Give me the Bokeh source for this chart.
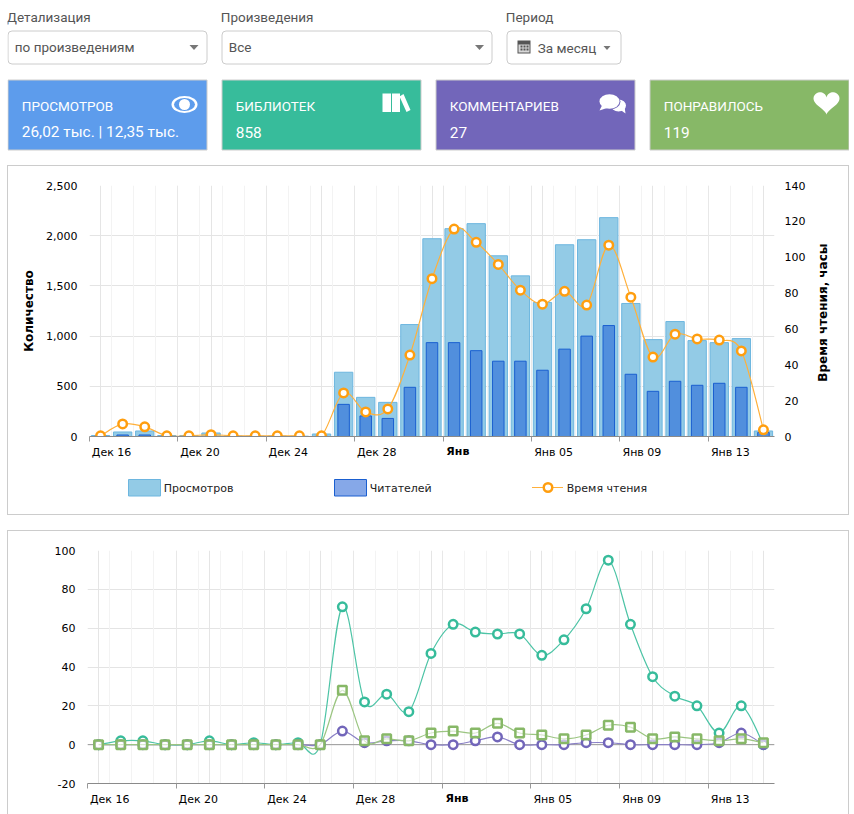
import math
from bokeh.plotting import figure
from bokeh.layouts import column, row
from bokeh.models import Range1d, LinearAxis, FixedTicker, NumeralTickFormatter, Grid, Span
from bokeh.core.properties import value
from bokeh.embed import file_html
from bokeh.resources import INLINE

views = [10, 45, 55, 10, 10, 35, 5, 3, 5, 3, 25, 640, 390, 340, 1115, 1970, 2070, 2120, 1800, 1600,
         1335, 1910, 1960, 2180, 1325, 965, 1145, 955, 935, 975, 55]
readers = [5, 15, 15, 3, 3, 5, 2, 2, 2, 2, 5, 320, 205, 180, 490, 935, 935, 855, 750, 750,
           660, 870, 1000, 1105, 620, 450, 550, 510, 530, 490, 40]
read_hours = [0.4, 7, 5.4, 0.4, 0.4, 1, 0.4, 0.4, 0.4, 0.4, 0.4, 24.3, 13.7, 15.4, 45.4, 88, 115.7, 108.3, 96, 81.6,
              73.8, 81, 73.3, 106.7, 77.7, 44.3, 57.1, 54.4, 53.8, 47.7, 3.7]
libraries = [0, 2, 2, 0, 0, 2, 0, 1, 0, 1, 0, 71, 22, 26, 17, 47, 62, 58, 57, 57,
             46, 54, 70, 95, 62, 35, 25, 20, 6, 20, 0]
comments = [0, 0, 0, 0, 0, 0, 0, 0, 0, 0, 0, 7, 1, 2, 2, 0, 0, 2, 4, 0,
            0, 0, 1, 1, 0, 0, 0, 0, 1, 6, 0]
likes = [0, 0, 0, 0, 0, 0, 0, 0, 0, 0, 0, 28, 2, 3, 2, 6, 7, 6, 11, 6,
         5, 3, 5, 10, 9, 3, 4, 3, 2, 3, 1]
days = list(range(31))
tick_labels = {0.5: "Дек 16", 4.5: "Дек 20", 8.5: "Дек 24", 12.5: "Дек 28",
               20.5: "Янв 05", 24.5: "Янв 09", 28.5: "Янв 13"}
bold_labels = {16.17: "Янв"}

BLUE, TEAL, PURPLE, GREEN = "#5d9cec", "#37bc9b", "#7266ba", "#87b867"
ORANGE = "#ff9e0f"
AXIS_FONT = "DejaVu Sans"
UI_FONT = "Roboto"
B = "1px solid #cccccc"


def smooth(xs, ys, k=6.0):
    n = len(xs)
    out = dict(x0=[], y0=[], x1=[], y1=[], cx0=[], cy0=[], cx1=[], cy1=[])
    for i in range(n - 1):
        a, b = max(i - 1, 0), min(i + 2, n - 1)
        out["x0"].append(xs[i]); out["y0"].append(ys[i])
        out["x1"].append(xs[i + 1]); out["y1"].append(ys[i + 1])
        out["cx0"].append(xs[i] + (xs[i + 1] - xs[a]) / k)
        out["cy0"].append(ys[i] + (ys[i + 1] - ys[a]) / k)
        out["cx1"].append(xs[i + 1] - (xs[b] - xs[i]) / k)
        out["cy1"].append(ys[i + 1] - (ys[b] - ys[i]) / k)
    return out


def style_x(p):
    p.xaxis.visible = False
    tick_axis = LinearAxis(ticker=FixedTicker(ticks=[-0.5 + 4 * i for i in range(8)]),
                           major_tick_in=0, major_tick_out=5, minor_tick_out=0, minor_tick_in=0,
                           axis_line_color="#8a8a8a", major_tick_line_color="#999999",
                           major_label_text_font_size="0px", major_label_standoff=0)
    tick_axis.major_label_overrides = {-0.5 + 4 * i: "" for i in range(8)}
    p.add_layout(tick_axis, "below")
    bold_axis = LinearAxis(ticker=FixedTicker(ticks=list(bold_labels)), major_tick_in=0, major_tick_out=0,
                           minor_tick_out=0, minor_tick_in=0, axis_line_color=None,
                           major_label_overrides=bold_labels, major_label_standoff=3,
                           major_label_text_font=AXIS_FONT, major_label_text_font_size="11px",
                           major_label_text_font_style="bold", major_label_text_color="#000000")
    p.add_layout(bold_axis, "below")
    lab_axis = LinearAxis(ticker=FixedTicker(ticks=list(tick_labels)), major_tick_in=0, major_tick_out=0,
                          minor_tick_out=0, minor_tick_in=0, axis_line_color=None,
                          major_label_overrides=tick_labels, major_label_standoff=-15,
                          major_label_text_font=AXIS_FONT, major_label_text_font_size="11px",
                          major_label_text_color="#000000")
    p.add_layout(lab_axis, "below")
    p.add_layout(Grid(dimension=0, ticker=FixedTicker(ticks=[-0.5 + 4 * i for i in range(8)],
                                                      minor_ticks=[-0.5 + i for i in range(32)]),
                      grid_line_color="#e8e8e8", minor_grid_line_color="#f3f3f3"))
    p.ygrid.grid_line_color = "#e4e4e4"
    p.yaxis.axis_line_color = None
    p.yaxis.major_tick_line_color = None
    p.yaxis.minor_tick_line_color = None
    p.yaxis.major_tick_out = 0
    p.yaxis.major_tick_in = 0
    p.yaxis.minor_tick_out = 0
    p.yaxis.minor_tick_in = 0
    p.yaxis.major_label_text_font = AXIS_FONT
    p.yaxis.major_label_text_font_size = "11px"
    p.yaxis.major_label_text_color = "#000000"
    p.yaxis.major_label_standoff = 12
    p.outline_line_color = None
    p.frame_align = False


# ---------- header ----------
head = figure(width=842, height=158, x_range=Range1d(7, 849), y_range=Range1d(165, 7),
              output_backend="svg", toolbar_location=None, min_border=0, outline_line_color=None,
              frame_align=False, x_axis_location=None, y_axis_location=None)
head.grid.visible = False


def txt(fig, x, y, s, size="13.5px", color="#555555", font=UI_FONT):
    fig.text([x - 0.7], [y - 0.5], text=[s], text_font=value(font), text_font_size=size, text_color=color,
             text_baseline="middle", text_align="left")


def tri(cx, cy, w, h):
    head.patch([cx - w / 2, cx + w / 2, cx], [cy - h / 2, cy - h / 2, cy + h / 2], color="#777777", line_width=0)


txt(head, 7, 17, "Детализация")
txt(head, 221, 17, "Произведения")
txt(head, 506, 17, "Период")
for l, r in [(7.5, 206.5), (221.5, 491.5), (506.5, 620.5)]:
    head.quad(left=l, right=r, top=30.5, bottom=63.5, fill_color="white", line_color="#cccccc", border_radius=4)
txt(head, 15, 47, "по произведениям")
txt(head, 229, 47, "Все")
txt(head, 538, 48, "За месяц")
tri(193.5, 47, 9, 5)
tri(479, 47, 9, 5)
tri(606.5, 47.5, 7, 4)
head.quad(left=517, right=530, top=40, bottom=53, fill_color="#555555", line_width=0)
head.quad(left=518, right=529, top=44, bottom=52, fill_color="#d8d8d8", line_width=0)
for cal_x in (520, 523, 526):
    head.quad(left=cal_x, right=cal_x + 2, top=[45, 48], bottom=[47, 50], fill_color="#555555", line_width=0)

cards = [(7, BLUE, "ПРОСМОТРОВ", "26,02 тыс. | 12,35 тыс."), (221, TEAL, "БИБЛИОТЕК", "858"),
         (435, PURPLE, "КОММЕНТАРИЕВ", "27"), (649, GREEN, "ПОНРАВИЛОСЬ", "119")]
for x, c, title, val in cards:
    head.quad(left=x + .5, right=x + 199.5, top=79.5, bottom=149.5, fill_color=c, line_color="#cccccc")
    txt(head, x + 15, 105.5, title, "13.5px", "#ffffff")
    txt(head, x + 15, 132, val, "15.4px", "#ffffff")
# eye
head.ellipse([184], [104], width=26, height=17, color="white", line_width=0)
head.ellipse([184], [104], width=21, height=13, color=BLUE, line_width=0)
head.ellipse([184], [104], width=11, height=11, color="white", line_width=0)
# books
head.quad(left=[382, 391.5], right=[390.5, 399.5], top=[93, 93], bottom=[111.5, 111.5], color="white", line_width=0)
head.patch([399, 403, 410, 406], [96, 93.5, 109.5, 111.5], color="white", line_width=0)
# comments
head.ellipse([618], [105], width=15, height=12, color="white", line_width=0)
head.patch([618, 625, 624], [108, 113, 106], color="white", line_width=0)
head.ellipse([609], [101], width=22, height=16, color=PURPLE, line_width=0)
head.ellipse([609], [101], width=20, height=14.5, color="white", line_width=0)
head.patch([602, 599, 608], [104, 110, 107], color="white", line_width=0)
# heart
heart_t = [i / 60 * 2 * math.pi for i in range(61)]
head.patch([826 + 13 / 16 * 16 * math.sin(t) ** 3 for t in heart_t],
           [101 - 11.5 / 13 * (13 * math.cos(t) - 5 * math.cos(2 * t) - 2 * math.cos(3 * t) - math.cos(4 * t)) * 0.88
            for t in heart_t], color="white", line_width=0)

# ---------- chart 1 ----------
p1 = figure(width=805, height=301, x_range=Range1d(-0.5, 30.5), y_range=Range1d(0, 2500),
            output_backend="svg", toolbar_location=None,
            styles={"border-left": B, "border-top": B, "box-sizing": "border-box"},
            min_border_left=81, min_border_right=39, min_border_top=19, min_border_bottom=31)
p1.extra_y_ranges = {"time": Range1d(0, 140)}
p1.yaxis.ticker = FixedTicker(ticks=[0, 500, 1000, 1500, 2000, 2500])
p1.yaxis.formatter = NumeralTickFormatter(format="0,0")
p1.yaxis.axis_label = "Количество"
p1.yaxis.axis_label_text_font = AXIS_FONT
p1.yaxis.axis_label_text_font_size = "12px"
p1.yaxis.axis_label_text_font_style = "bold"
p1.yaxis.axis_label_text_color = "#000000"
p1.yaxis.axis_label_standoff = 7
style_x(p1)
right = LinearAxis(y_range_name="time", ticker=FixedTicker(ticks=list(range(0, 141, 20))),
                   axis_line_color=None, major_tick_line_color=None, minor_tick_line_color=None,
                   major_tick_out=0, major_tick_in=0, minor_tick_out=0, minor_tick_in=0,
                   major_label_text_font=AXIS_FONT, major_label_text_font_size="11px",
                   major_label_text_color="#000000", major_label_standoff=10)
p1.add_layout(right, "right")

p1.vbar(x=days, top=views, width=0.83, fill_color="#93cbe6", line_color="#6db6df")
p1.vbar(x=days, top=readers, width=0.52, fill_color="#1c5ed6", fill_alpha=0.55, line_color="#1a5fd0")
p1.bezier(**smooth(days, read_hours), y_range_name="time", line_color="#ffb03b", line_width=1.2)
p1.scatter(days, read_hours, y_range_name="time", size=8.5, marker="circle", fill_color="white",
           line_color=ORANGE, line_width=2.5)

# right-hand title of the first chart
side = figure(width=37, height=301, x_range=Range1d(812, 849), y_range=Range1d(466, 165),
              output_backend="svg", toolbar_location=None, min_border=0, outline_line_color=None,
              frame_align=False, x_axis_location=None, y_axis_location=None,
              styles={"border-right": B, "border-top": B, "box-sizing": "border-box"})
side.grid.visible = False
side.text([822], [311], text=["Время чтения, часы"], angle=math.pi / 2, text_font=value(AXIS_FONT),
          text_font_size="12px", text_font_style="bold", text_color="#000000",
          text_align="center", text_baseline="middle")

# legend strip (lower part of the first panel)
strip = figure(width=842, height=49, x_range=Range1d(7, 849), y_range=Range1d(515, 466),
               output_backend="svg", toolbar_location=None, min_border=0, outline_line_color=None,
               frame_align=False, x_axis_location=None, y_axis_location=None,
               styles={"border-left": B, "border-right": B, "border-bottom": B, "box-sizing": "border-box"})
strip.grid.visible = False
strip.quad(left=127, right=159, top=479, bottom=495.5, fill_color="#93cbe6", line_color="#6db6df")
strip.quad(left=333, right=365, top=479, bottom=495.5, fill_color="#86a8e8", line_color="#1a5fd0")
strip.line([530.5, 561.5], [487, 487], line_color="#ffb03b", line_width=1.2)
strip.scatter([546.5], [487], size=8.5, marker="circle", fill_color="white", line_color=ORANGE, line_width=2.5)
txt(strip, 163, 488, "Просмотров", "11px", "#222222", AXIS_FONT)
txt(strip, 369, 488, "Читателей", "11px", "#222222", AXIS_FONT)
txt(strip, 566, 488, "Время чтения", "11px", "#222222", AXIS_FONT)

# ---------- chart 2 ----------
p2 = figure(width=842, height=284, x_range=Range1d(-0.5, 30.5), y_range=Range1d(-20, 100),
            output_backend="svg", toolbar_location=None, margin=(15, 0, 0, 0),
            styles={"border-left": B, "border-right": B, "border-top": B, "box-sizing": "border-box"},
            min_border_left=79, min_border_right=76, min_border_top=19, min_border_bottom=32)
p2.yaxis.ticker = FixedTicker(ticks=list(range(-20, 101, 20)))
p2.yaxis.major_label_overrides = {-20: "-20"}
style_x(p2)
p2.add_layout(Span(location=0, dimension="width", line_color="#999999", line_width=1, level="underlay"))
p2.bezier(**smooth(days, libraries), line_color="#4dc4a6", line_width=1.2)
p2.scatter(days, libraries, size=8.5, marker="circle", fill_color="white", line_color=TEAL, line_width=2.5)
p2.bezier(**smooth(days, comments), line_color="#8a80c6", line_width=1.2)
p2.scatter(days, comments, size=8.5, marker="circle", fill_color="white", line_color=PURPLE, line_width=2.5)
p2.bezier(**smooth(days, likes), line_color="#9bc581", line_width=1.2)
p2.scatter(days, likes, size=8.5, marker="square", fill_color="white", fill_alpha=0.6, line_color=GREEN, line_width=2.5)

top_row = row(p1, side, spacing=0)
page = column(head, top_row, strip, p2, spacing=0, margin=(7, 0, 0, 7))
open("out.html", "w").write(file_html(page, INLINE))
